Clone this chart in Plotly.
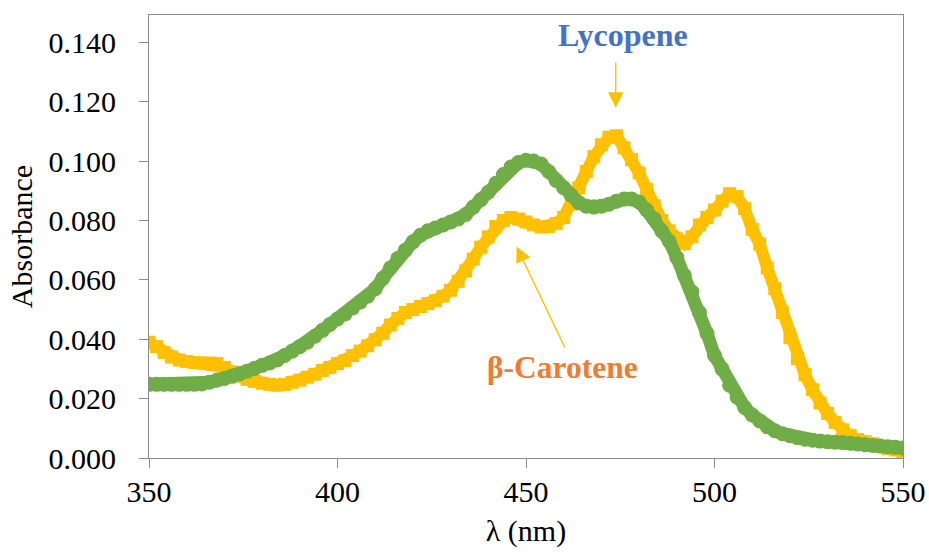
import plotly.graph_objects as go

# Wavelength grid (nm), 2 nm steps from 350 to 550
wavelength = list(range(350, 551, 2))

# Absorbance of the yellow (square marker) spectrum
absorb_yellow = [
    0.0390, 0.0375, 0.0355, 0.0340, 0.0330, 0.0325, 0.0322, 0.0320, 0.0320, 0.0318,
    0.0305, 0.0290, 0.0275, 0.0265, 0.0258, 0.0252, 0.0248, 0.0245, 0.0248, 0.0255,
    0.0262, 0.0272, 0.0282, 0.0295, 0.0305, 0.0318, 0.0328, 0.0345, 0.0360, 0.0378,
    0.0398, 0.0420, 0.0448, 0.0470, 0.0490, 0.0500, 0.0510, 0.0520, 0.0530, 0.0545,
    0.0565, 0.0595, 0.0630, 0.0670, 0.0710, 0.0745, 0.0780, 0.0800, 0.0810, 0.0805,
    0.0795, 0.0785, 0.0778, 0.0780, 0.0790, 0.0810, 0.0855, 0.0910, 0.0965, 0.1015,
    0.1055, 0.1080, 0.1085, 0.1045, 0.1005, 0.0960, 0.0905, 0.0850, 0.0800, 0.0765,
    0.0738, 0.0722, 0.0745, 0.0785, 0.0810, 0.0835, 0.0865, 0.0890, 0.0880, 0.0840,
    0.0770, 0.0720, 0.0640, 0.0570, 0.0490, 0.0405, 0.0335, 0.0280, 0.0230, 0.0185,
    0.0150, 0.0120, 0.0095, 0.0075, 0.0062, 0.0055, 0.0048, 0.0040, 0.0032, 0.0027,
    0.0022,
]

# Absorbance of the green (circle marker) spectrum
absorb_green = [
    0.0248, 0.0248, 0.0248, 0.0248, 0.0248, 0.0248, 0.0248, 0.0249, 0.0255, 0.0262,
    0.0268, 0.0275, 0.0283, 0.0292, 0.0302, 0.0312, 0.0320, 0.0330, 0.0345, 0.0360,
    0.0375, 0.0390, 0.0410, 0.0430, 0.0450, 0.0468, 0.0485, 0.0505, 0.0525, 0.0545,
    0.0570, 0.0605, 0.0640, 0.0672, 0.0700, 0.0728, 0.0750, 0.0765, 0.0775, 0.0785,
    0.0795, 0.0805, 0.0820, 0.0845, 0.0870, 0.0895, 0.0925, 0.0955, 0.0980, 0.0995,
    0.1003, 0.1000, 0.0990, 0.0965, 0.0935, 0.0910, 0.0885, 0.0860, 0.0848, 0.0845,
    0.0848, 0.0855, 0.0865, 0.0872, 0.0872, 0.0862, 0.0835, 0.0805, 0.0765, 0.0730,
    0.0675, 0.0615, 0.0560, 0.0490, 0.0420, 0.0345, 0.0300, 0.0245, 0.0205, 0.0170,
    0.0145, 0.0125, 0.0105, 0.0092, 0.0082, 0.0075, 0.0068, 0.0063, 0.0060, 0.0057,
    0.0055, 0.0053, 0.0052, 0.0050, 0.0047, 0.0045, 0.0042, 0.0040, 0.0038, 0.0036,
    0.0034,
]

x_ticks = [350, 400, 450, 500, 550]
y_ticks = [0.0, 0.02, 0.04, 0.06, 0.08, 0.10, 0.12, 0.14]
y_tick_text = [f"{v:.3f}" for v in y_ticks]

FONT = "Liberation Serif, Times New Roman, serif"
YELLOW = "#FFC000"
GREEN = "#70AD47"
AXIS_GREY = "#8C8C8C"

fig = go.Figure()
# Thick line underneath keeps each band continuous on steep slopes
fig.add_trace(go.Scatter(
    x=wavelength, y=absorb_yellow, mode="lines+markers",
    line=dict(color=YELLOW, width=12),
    marker=dict(symbol="square", size=13, color=YELLOW, line=dict(width=0)),
    showlegend=False, hoverinfo="skip",
))
fig.add_trace(go.Scatter(
    x=wavelength, y=absorb_green, mode="lines+markers",
    line=dict(color=GREEN, width=13),
    marker=dict(symbol="circle", size=15, color=GREEN, line=dict(width=0)),
    showlegend=False, hoverinfo="skip",
))

# Peak labels and their arrows
fig.add_annotation(x=475.7, y=0.1425, text="<b>Lycopene</b>", showarrow=False,
                   font=dict(family=FONT, size=32, color="#4472C4"))
fig.add_annotation(x=473.8, y=0.1180, ax=473.8, ay=0.1337, axref="x", ayref="y",
                   text="", showarrow=True, arrowhead=2, arrowsize=2.2,
                   arrowwidth=1.4, arrowcolor=YELLOW)
fig.add_annotation(x=459.7, y=0.0306, text="<b>β-Carotene</b>", showarrow=False,
                   font=dict(family=FONT, size=31.5, color="#ED7D31"))
fig.add_annotation(x=447.5, y=0.0712, ax=460.5, ay=0.0367, axref="x", ayref="y",
                   text="", showarrow=True, arrowhead=2, arrowsize=2.2,
                   arrowwidth=1.4, arrowcolor=YELLOW)

fig.update_layout(
    width=929, height=554,
    margin=dict(l=149, r=26, t=15, b=96),
    paper_bgcolor="white", plot_bgcolor="white",
    font=dict(family=FONT, size=30, color="#000000"),
)
fig.update_xaxes(
    range=[350, 550], tickvals=x_ticks, ticktext=[str(v) for v in x_ticks],
    tickfont=dict(family=FONT, size=30, color="#000000"),
    showgrid=False, zeroline=False, automargin=False,
    showline=True, linecolor=AXIS_GREY, linewidth=1, mirror=True,
    ticks="outside", ticklen=9, tickcolor=AXIS_GREY, tickwidth=1,
    ticklabelstandoff=-2,
    title=dict(text="λ (nm)", font=dict(family=FONT, size=30), standoff=12),
)
fig.update_yaxes(
    range=[0, 0.1492], tickvals=y_ticks, ticktext=y_tick_text,
    tickfont=dict(family=FONT, size=30, color="#000000"),
    showgrid=False, zeroline=False, automargin=False,
    showline=True, linecolor=AXIS_GREY, linewidth=1, mirror=True,
    ticks="outside", ticklen=9, tickcolor=AXIS_GREY, tickwidth=1,
    ticklabelstandoff=17,
    title=dict(text="Absorbance", font=dict(family=FONT, size=30), standoff=7),
)

fig.write_html("out.html")
